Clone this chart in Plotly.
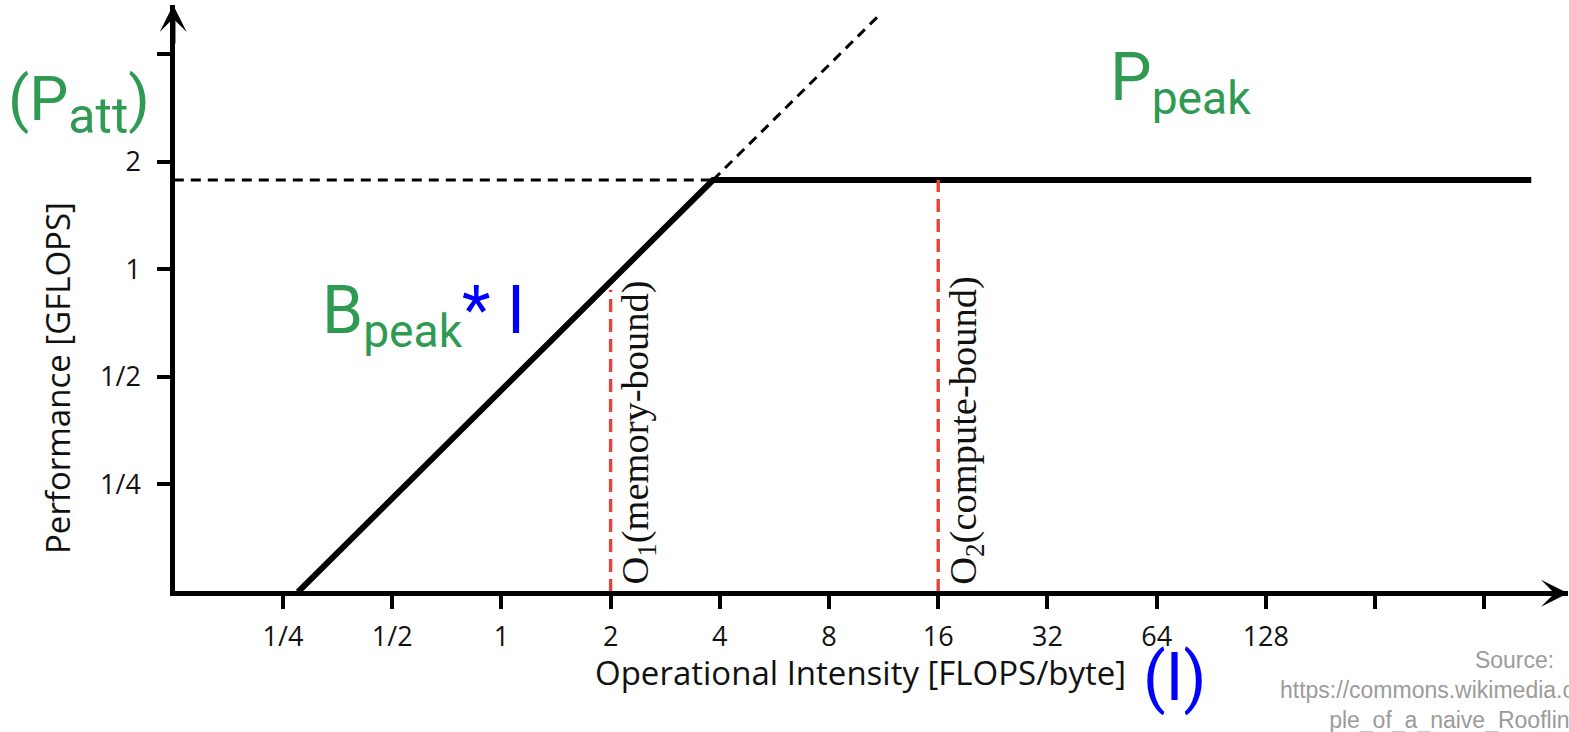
import math
import plotly.graph_objects as go

# ---- tick values and labels (log2 spaced axes) ----
x_tick_vals = [0.25, 0.5, 1, 2, 4, 8, 16, 32, 64, 128, 256, 512]
x_tick_text = ["1/4", "1/2", "1", "2", "4", "8", "16", "32", "64", "128", "", ""]
y_tick_vals = [0.25, 0.5, 1, 2, 4]
y_tick_text = ["1/4", "1/2", "1", "2", ""]

# ---- roofline: bandwidth-bound slope up to the ridge, then flat at peak ----
roof_intensity = [0.275, 3.83, 690]
roof_performance = [0.125, 1.78, 1.78]

# bandwidth slope continued beyond the ridge point
slope_ext_intensity = [3.83, 11.1]
slope_ext_performance = [1.78, 5.2]

# peak performance continued back to the y axis
peak_ext_intensity = [0.125, 3.83]
peak_ext_performance = [1.78, 1.78]

# example kernels and their attainable performance
kernel_labels = ["O<sub>1</sub>(memory-bound)", "O<sub>2</sub>(compute-bound)"]
kernel_intensity = [2, 16]
kernel_attainable = [0.878, 1.78]

# ---- page geometry ----
W, H = 1569, 732
ML, MR, MT, MB = 175, 1, 5, 141
PW, PH = W - ML - MR, H - MT - MB

LOG2 = math.log10(2)
x_range = [-2.989 * LOG2, 9.767 * LOG2]
y_range = [-2.991 * LOG2, 2.46 * LOG2]

GREEN = "#2f9a52"
BLUE = "#0000ff"
RED = "#e2453b"
GRAY = "#9b9b9b"
INK = "#111111"


def px_x(p):
    return (p - ML) / PW


def px_y(p):
    return (H - MB - p) / PH


fig = go.Figure()

fig.add_trace(go.Scatter(
    x=peak_ext_intensity, y=peak_ext_performance, mode="lines",
    line=dict(color="black", width=3, dash="10px,7px"), hoverinfo="skip"))
fig.add_trace(go.Scatter(
    x=slope_ext_intensity, y=slope_ext_performance, mode="lines",
    line=dict(color="black", width=3, dash="10px,7px"), hoverinfo="skip"))
fig.add_trace(go.Scatter(
    x=roof_intensity, y=roof_performance, mode="lines",
    line=dict(color="black", width=6), hoverinfo="skip"))

for xi, top in zip(kernel_intensity, kernel_attainable):
    fig.add_trace(go.Scatter(
        x=[xi, xi], y=[0.125, top], mode="lines",
        line=dict(color=RED, width=3.4, dash="13px,7px"), hoverinfo="skip"))

annotations = []

# kernel labels, rotated, in a serif face
for name, xi in zip(kernel_labels, kernel_intensity):
    annotations.append(dict(
        x=math.log10(xi), y=0, xref="x", yref="paper",
        text=name, textangle=-90, showarrow=False,
        xanchor="left", yanchor="bottom", xshift=1, yshift=4,
        font=dict(family="Liberation Serif", size=38.5, color=INK)))

# axis arrows
annotations.append(dict(
    x=px_x(1568), y=px_y(593.3), xref="paper", yref="paper", text="",
    showarrow=True, ax=-40, ay=0, arrowhead=3, arrowsize=1,
    arrowwidth=4.5, arrowcolor="black"))
annotations.append(dict(
    x=px_x(173.2), y=px_y(5), xref="paper", yref="paper", text="",
    showarrow=True, ax=0, ay=40, arrowhead=3, arrowsize=1,
    arrowwidth=4.5, arrowcolor="black"))

# axis titles
annotations.append(dict(
    x=px_x(860), y=px_y(672), xref="paper", yref="paper",
    text="Operational Intensity [FLOPS/byte]", showarrow=False,
    xanchor="center", yanchor="middle",
    font=dict(family="Open Sans", size=33, color=INK)))
annotations.append(dict(
    x=px_x(57), y=px_y(378), xref="paper", yref="paper",
    text="Performance [GFLOPS]", showarrow=False, textangle=-90,
    xanchor="center", yanchor="middle",
    font=dict(family="Open Sans", size=33, color=INK)))

# symbolic labels
annotations.append(dict(
    x=px_x(1175), y=px_y(678), xref="paper", yref="paper",
    text="(I)", showarrow=False, xanchor="center", yanchor="middle",
    font=dict(family="Roboto", size=66, color=BLUE)))
annotations.append(dict(
    x=px_x(6), y=px_y(104), xref="paper", yref="paper",
    text="(P<sub><span style='font-size:50px'>att</span></sub>)",
    showarrow=False, xanchor="left", yanchor="middle",
    font=dict(family="Roboto", size=62, color=GREEN)))
annotations.append(dict(
    x=px_x(1108), y=px_y(82), xref="paper", yref="paper",
    text="P<sub>peak</sub>", showarrow=False, xanchor="left", yanchor="middle",
    font=dict(family="Roboto", size=66, color=GREEN)))
annotations.append(dict(
    x=px_x(320), y=px_y(315), xref="paper", yref="paper",
    text="B<sub>peak</sub><span style='color:%s'>* I</span>" % BLUE,
    showarrow=False, xanchor="left", yanchor="middle",
    font=dict(family="Roboto", size=66, color=GREEN)))

# source note
annotations.append(dict(
    x=px_x(1514), y=px_y(645), xref="paper", yref="paper",
    text="Source:<br>https://commons.wikimedia.org/wiki/File:Exam<br>"
         "ple_of_a_naive_Roofline_model.svg",
    showarrow=False, xanchor="center", yanchor="top", align="center",
    font=dict(family="Liberation Sans", size=23, color=GRAY)))

axis_common = dict(
    type="log", showgrid=False, zeroline=False,
    showline=True, linecolor="black", linewidth=4.5,
    ticks="outside", ticklen=13, tickwidth=4, tickcolor="black",
    tickfont=dict(family="Open Sans", size=27, color=INK),
)

fig.update_layout(
    width=W, height=H,
    margin=dict(l=ML, r=MR, t=MT, b=MB, pad=0),
    paper_bgcolor="white", plot_bgcolor="white",
    showlegend=False, hovermode=False,
    xaxis=dict(range=x_range, tickvals=x_tick_vals, ticktext=x_tick_text,
               ticklabelstandoff=5, **axis_common),
    yaxis=dict(range=y_range, tickvals=y_tick_vals, ticktext=y_tick_text,
               ticklabelstandoff=11, **axis_common),
    annotations=annotations,
)

fig.write_html("out.html", config={"displayModeBar": False})
